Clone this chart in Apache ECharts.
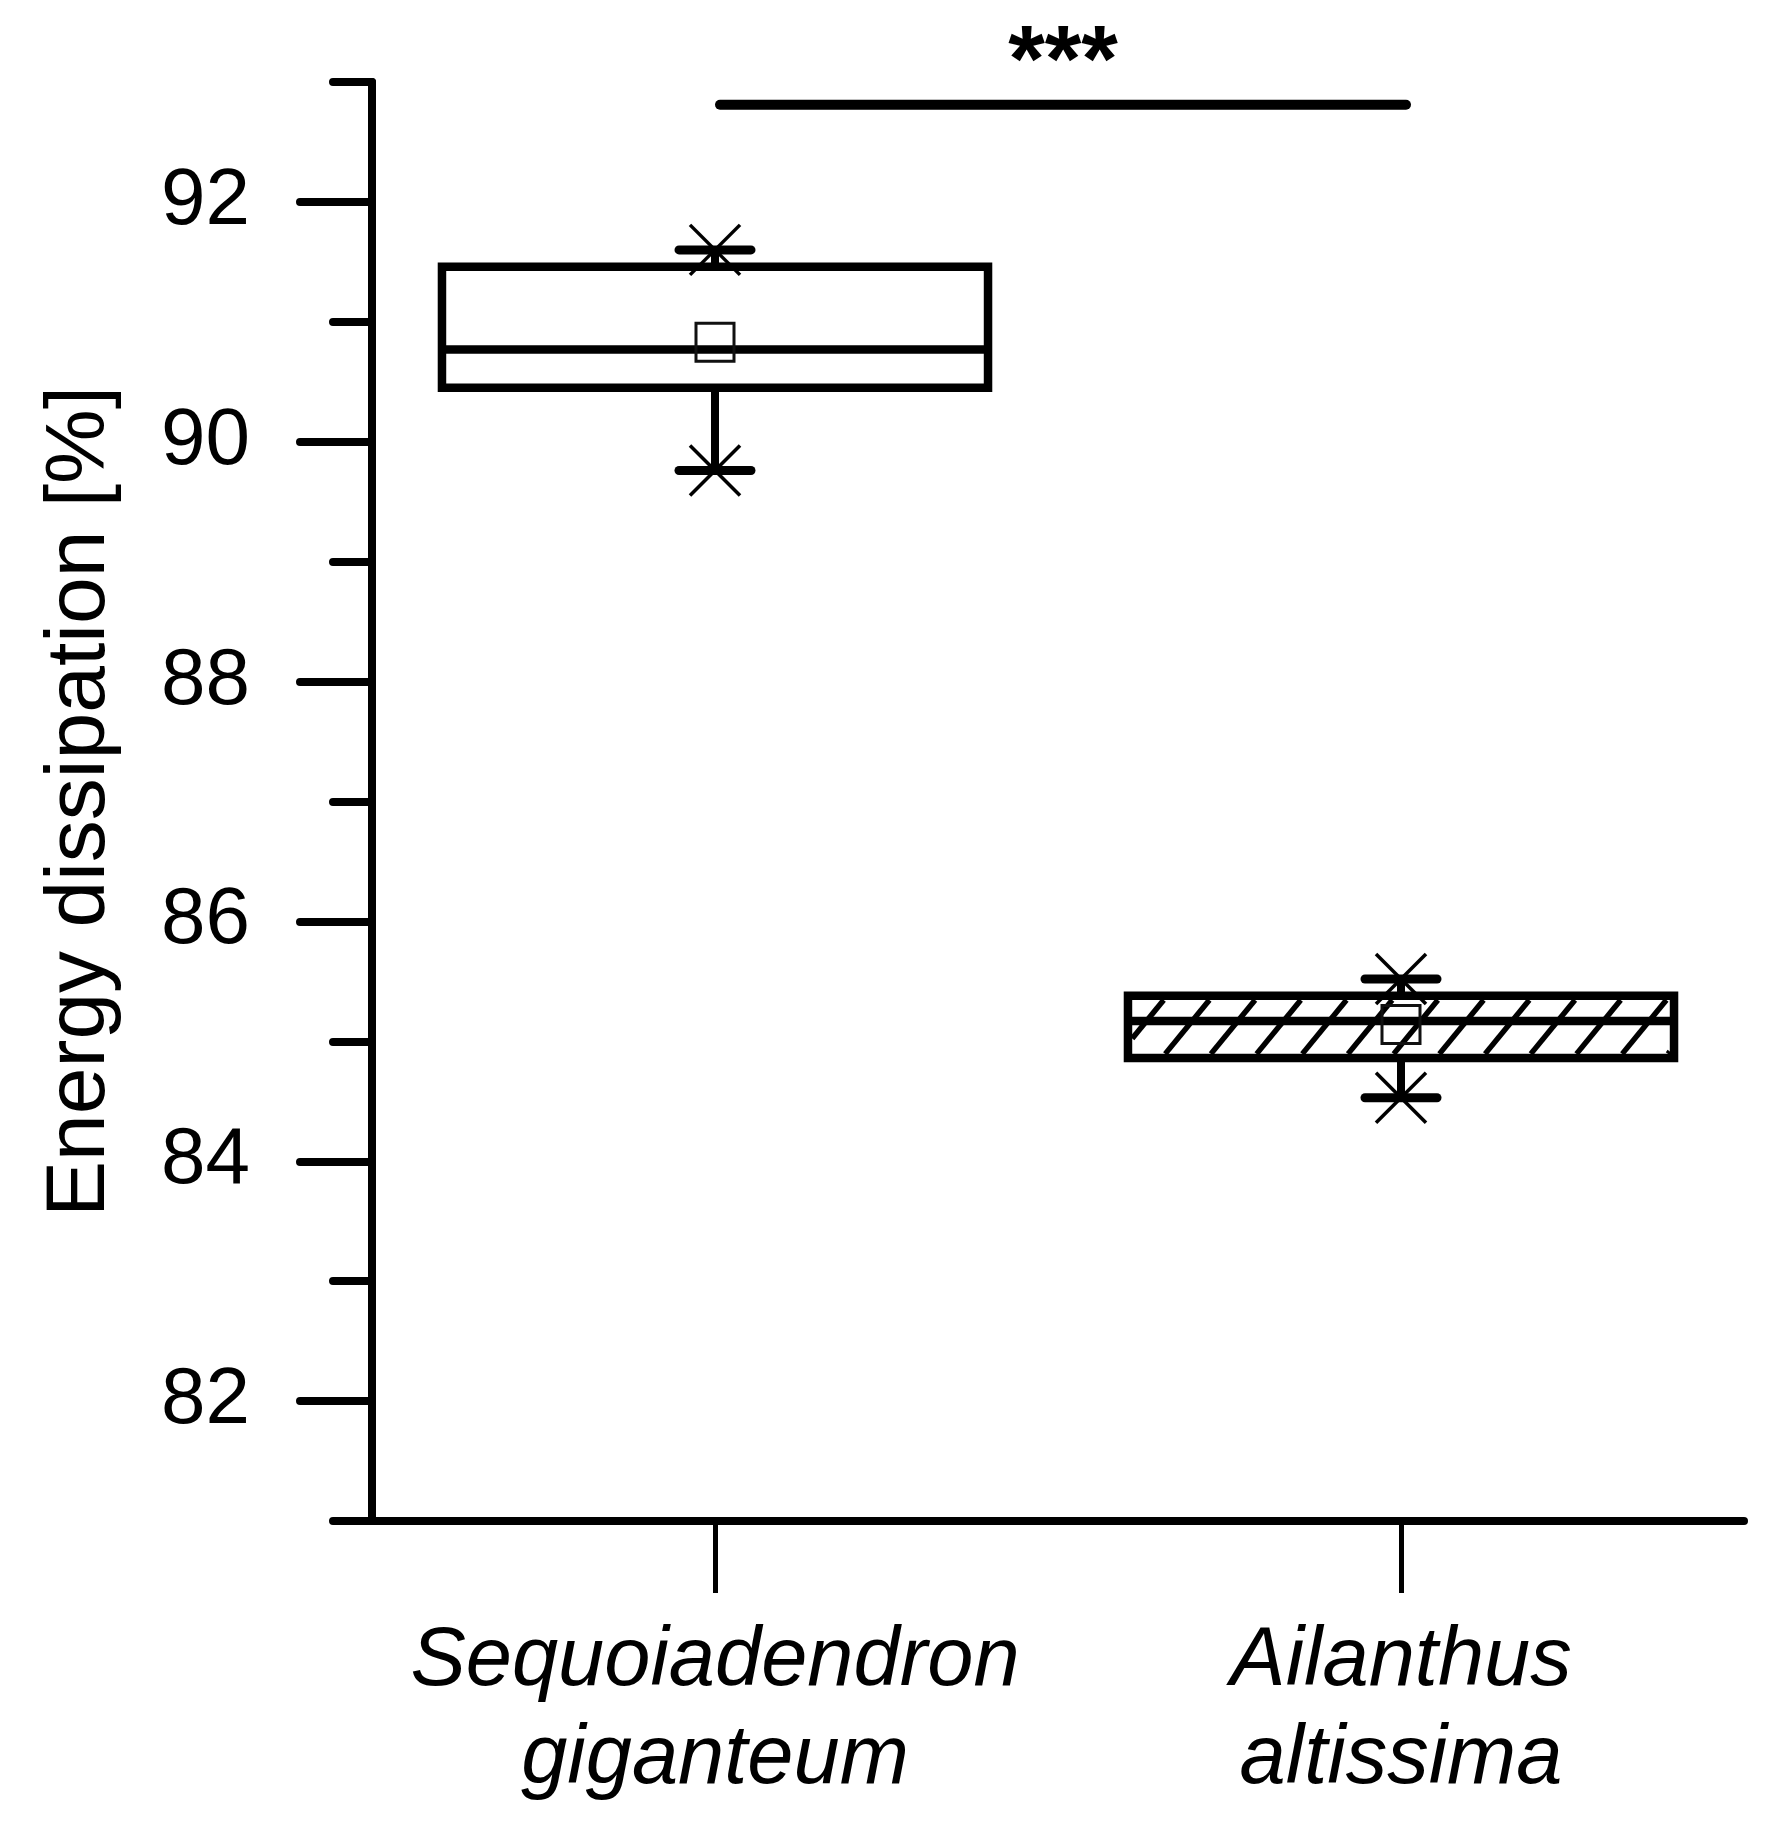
<!DOCTYPE html>
<html>
<head>
<meta charset="utf-8">
<script src="https://cdn.jsdelivr.net/npm/echarts@6/dist/echarts.min.js"></script>
<style>
html,body{margin:0;padding:0;background:#fff;}
#chart{width:1773px;height:1844px;}
</style>
</head>
<body>
<div id="chart"></div>
<script>
// ---------- data ----------
const categories = ['Sequoiadendron\ngiganteum', 'Ailanthus\naltissima'];
const whiskerLow = [89.76, 84.53];
const q1Values = [90.45, 84.86];
const medianValues = [90.77, 85.17];
const q3Values = [91.46, 85.38];
const whiskerHigh = [91.60, 85.52];
const meanValues = [90.83, 85.14];
const majorTickValues = [82, 84, 86, 88, 90, 92];
const minorTickValues = [81, 83, 85, 87, 89, 91, 93];
const yMin = 81, yMax = 93;
const sigLevel = 92.81;
const sigLabel = '***';
const yAxisTitle = 'Energy dissipation [%]';

// ---------- style ----------
const FONT = "'Liberation Sans', Arial, sans-serif";
const BOX_WIDTH_RATIO = 0.796;
const HATCHED = [false, true];

const boxData = categories.map((c, i) => [i, whiskerLow[i], q1Values[i], medianValues[i], q3Values[i], whiskerHigh[i], meanValues[i]]);

function line(x1, y1, x2, y2, w, color, cap) {
  return { type: 'line', shape: { x1, y1, x2, y2 }, style: { stroke: color || '#000', lineWidth: w, lineCap: cap || 'butt' } };
}

function renderBox(params, api) {
  const ci = api.value(0);
  const lo = api.coord([ci, api.value(1)]);
  const q1 = api.coord([ci, api.value(2)]);
  const med = api.coord([ci, api.value(3)]);
  const q3 = api.coord([ci, api.value(4)]);
  const hi = api.coord([ci, api.value(5)]);
  const mn = api.coord([ci, api.value(6)]);
  const band = api.size([1, 0])[0];
  const bw = band * BOX_WIDTH_RATIO;
  const cx = q1[0];
  const left = cx - bw / 2, right = cx + bw / 2;
  const top = q3[1], bottom = q1[1];
  const lw = 8.5;
  const children = [];
  if (HATCHED[params.dataIndex]) {
    const il = left + lw / 2, ir = right - lw / 2, it = top + lw / 2, ib = bottom - lw / 2;
    const h = ib - it;
    const dx = h * 0.82;
    const spacing = 45.7;
    for (let x0 = il + 33 - spacing * 3; x0 < ir + spacing; x0 += spacing) {
      let t0 = 0, t1 = 1;
      if (x0 < il) t0 = Math.max(t0, (il - x0) / dx);
      if (x0 + dx > ir) t1 = Math.min(t1, (ir - x0) / dx);
      if (t1 <= t0) continue;
      children.push(line(x0 + t0 * dx, ib - t0 * h, x0 + t1 * dx, ib - t1 * h, 5.5));
    }
  }
  children.push(line(left, med[1], right, med[1], lw));
  children.push({ type: 'rect', shape: { x: left, y: top, width: bw, height: bottom - top }, style: { fill: 'none', stroke: '#000', lineWidth: lw } });
  children.push(line(cx, top, cx, hi[1], 8));
  children.push(line(cx, bottom, cx, lo[1], 8));
  [hi[1], lo[1]].forEach(y => {
    children.push(line(cx - 36, y, cx + 36, y, 9, '#000', 'round'));
    children.push(line(cx - 25, y - 25, cx + 25, y + 25, 3.5));
    children.push(line(cx - 25, y + 25, cx + 25, y - 25, 3.5));
  });
  children.push({ type: 'rect', shape: { x: mn[0] - 19, y: mn[1] - 19, width: 38, height: 38 }, style: { fill: 'none', stroke: '#111', lineWidth: 3 } });
  return { type: 'group', children };
}

function renderSig(params, api) {
  const a = api.coord([api.value(0), api.value(2)]);
  const b = api.coord([api.value(1), api.value(2)]);
  const xa = a[0] + 5, xb = b[0] + 5;
  return {
    type: 'group',
    children: [
      line(xa, a[1], xb, b[1], 10, '#000', 'round'),
      { type: 'text', style: { x: (xa + xb) / 2, y: a[1] - 40, text: sigLabel, fill: '#000', font: 'bold 94px ' + FONT, align: 'center', verticalAlign: 'middle' } }
    ]
  };
}

const chart = echarts.init(document.getElementById('chart'), null, { renderer: 'canvas' });
chart.setOption({
  backgroundColor: '#ffffff',
  animation: false,
  grid: { left: 372, right: 29, top: 82, bottom: 323 },
  xAxis: {
    type: 'category',
    data: categories,
    boundaryGap: true,
    axisLine: { lineStyle: { color: '#000', width: 8 } },
    axisTick: { show: true, alignWithLabel: true, length: 72, lineStyle: { color: '#000', width: 5 } },
    axisLabel: { interval: 0, margin: 92, color: '#000', fontFamily: FONT, fontStyle: 'italic', fontSize: 83, lineHeight: 98 },
    splitLine: { show: false }
  },
  yAxis: [
    {
      type: 'value', min: yMin, max: yMax,
      name: yAxisTitle, nameLocation: 'middle', nameGap: 249,
      nameTextStyle: { color: '#000', fontFamily: FONT, fontSize: 84, lineHeight: 84 },
      axisLine: { show: true, lineStyle: { color: '#000', width: 8 } },
      axisTick: { show: true, customValues: majorTickValues, length: 72, lineStyle: { color: '#000', width: 8, cap: 'round' } },
      axisLabel: { show: true, customValues: majorTickValues, margin: 122, color: '#000', fontFamily: FONT, fontSize: 80, padding: [0, 0, 14, 0] },
      splitLine: { show: false }
    },
    {
      type: 'value', min: yMin, max: yMax, position: 'left',
      axisLine: { show: false },
      axisTick: { show: true, customValues: minorTickValues, length: 39, lineStyle: { color: '#000', width: 8, cap: 'round' } },
      axisLabel: { show: false },
      splitLine: { show: false }
    }
  ],
  series: [
    {
      type: 'custom', name: 'boxes', renderItem: renderBox, data: boxData,
      encode: { x: 0, y: [1, 2, 3, 4, 5, 6] }, clip: false, z: 5
    },
    {
      type: 'custom', name: 'significance', renderItem: renderSig,
      data: [[0, 1, sigLevel]], encode: { x: [0, 1], y: 2 }, clip: false, z: 6
    }
  ]
});
</script>
</body>
</html>
